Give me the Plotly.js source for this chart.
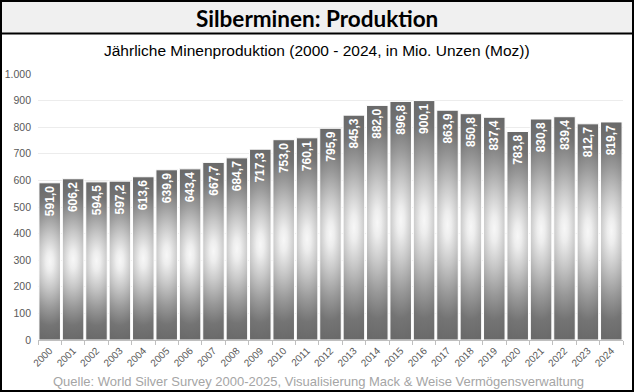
<!DOCTYPE html>
<html>
<head>
<meta charset="utf-8">
<script src="https://cdn.plot.ly/plotly-3.0.1.min.js"></script>
<style>
  html, body { margin: 0; padding: 0; background: #ffffff; }
  #chart { width: 634px; height: 392px; }
</style>
</head>
<body>
<div id="chart"></div>
<script>
const years = ['2000','2001','2002','2003','2004','2005','2006','2007','2008','2009','2010','2011','2012','2013','2014','2015','2016','2017','2018','2019','2020','2021','2022','2023','2024'];
const production = [591.0,606.2,594.5,597.2,613.6,639.9,643.4,667.7,684.7,717.3,753.0,760.1,795.9,845.3,882.0,896.8,900.1,863.9,850.8,837.4,783.8,830.8,839.4,812.7,819.7];
const yTicks = [0,100,200,300,400,500,600,700,800,900,1000];

const mainTitle = 'Silberminen: Produktion';
const subTitle = 'Jährliche Minenproduktion (2000 - 2024, in Mio. Unzen (Moz))';
const sourceText = 'Quelle: World Silver Survey 2000-2025, Visualisierung Mack & Weise Vermögensverwaltung';

const W = 634, H = 392;
const M = {l: 38, r: 11, t: 74, b: 52};
const pw = W - M.l - M.r, ph = H - M.t - M.b;
const px = x => (x - M.l) / pw;
const py = y => 1 - (y - M.t) / ph;

const trace = {
  type: 'bar',
  x: years,
  y: production,
  marker: {color: '#9a9a9a', line: {color: '#ffffff', width: 1}},
  texttemplate: '%{y:.1f}',
  textposition: 'inside',
  insidetextanchor: 'end',
  textangle: -90,
  textfont: {family: 'Liberation Sans, Arial, sans-serif', size: 12, color: '#ffffff', weight: 'bold'},
  hoverinfo: 'none'
};

const layout = {
  width: W, height: H,
  margin: M,
  paper_bgcolor: '#ffffff',
  plot_bgcolor: '#ffffff',
  separators: ',.',
  bargap: 0.08,
  showlegend: false,
  xaxis: {
    type: 'category',
    tickangle: -45,
    tickfont: {family: 'Liberation Sans, Arial, sans-serif', size: 10, color: '#595959'},
    showline: true, linecolor: '#bfbfbf', linewidth: 1,
    ticks: 'outside', ticklen: 4, tickcolor: '#bfbfbf',
    tickson: 'boundaries',
    showgrid: false
  },
  yaxis: {
    range: [0, 1000],
    tickvals: yTicks,
    tickformat: ',d',
    tickfont: {family: 'Liberation Sans, Arial, sans-serif', size: 10.5, color: '#595959'},
    showgrid: true, gridcolor: '#ececec', gridwidth: 1,
    zeroline: false,
    ticks: '', ticklabelstandoff: 6
  },
  shapes: [
    {type: 'rect', xref: 'paper', yref: 'paper', x0: px(0), x1: px(W), y0: py(0), y1: py(33),
     fillcolor: '#f0f0f0', line: {width: 0}, layer: 'below'},
    {type: 'line', xref: 'paper', yref: 'paper', x0: px(0), x1: px(W), y0: py(33.5), y1: py(33.5),
     line: {color: '#000000', width: 2}},
    {type: 'rect', xref: 'paper', yref: 'paper', x0: px(1), x1: px(W - 1), y0: py(1), y1: py(H - 1),
     line: {color: '#000000', width: 2}, fillcolor: 'rgba(0,0,0,0)'}
  ],
  annotations: [
    {text: mainTitle, xref: 'paper', yref: 'paper', x: px(W/2), y: py(18), showarrow: false,
     xanchor: 'center', yanchor: 'middle',
     font: {family: 'Lato, sans-serif', size: 22.5, color: '#000000', weight: 'bold'}},
    {text: subTitle, xref: 'paper', yref: 'paper', x: px(W/2), y: py(50), showarrow: false,
     xanchor: 'center', yanchor: 'middle',
     font: {family: 'Liberation Sans, Arial, sans-serif', size: 15.5, color: '#000000'}},
    {text: sourceText, xref: 'paper', yref: 'paper', x: px(W/2 + 1), y: py(381.5), showarrow: false,
     xanchor: 'center', yanchor: 'middle',
     font: {family: 'Liberation Sans, Arial, sans-serif', size: 13, color: '#a5a5a5'}}
  ]
};

Plotly.newPlot('chart', [trace], layout, {staticPlot: true, displayModeBar: false}).then(gd => {
  const svg = gd.querySelector('svg.main-svg');
  const ns = 'http://www.w3.org/2000/svg';
  let defs = svg.querySelector('defs');
  if (!defs) { defs = document.createElementNS(ns, 'defs'); svg.insertBefore(defs, svg.firstChild); }
  const g = document.createElementNS(ns, 'radialGradient');
  g.setAttribute('id', 'silverGrad');
  g.setAttribute('cx', '0.5'); g.setAttribute('cy', '0.5'); g.setAttribute('r', '0.5');
  g.setAttribute('gradientTransform', 'translate(0.5 0.5) scale(3 1) translate(-0.5 -0.5)');
  const stops = [[0, '#f7f7f7'], [0.12, '#ededed'], [0.35, '#c6c6c6'], [0.6, '#989898'], [0.82, '#747474'], [1, '#6a6a6a']];
  stops.forEach(([o, c]) => {
    const s = document.createElementNS(ns, 'stop');
    s.setAttribute('offset', o); s.setAttribute('stop-color', c);
    g.appendChild(s);
  });
  defs.appendChild(g);
  gd.querySelectorAll('.barlayer .point path').forEach(p => { p.style.fill = 'url(#silverGrad)'; });
});
</script>
</body>
</html>
